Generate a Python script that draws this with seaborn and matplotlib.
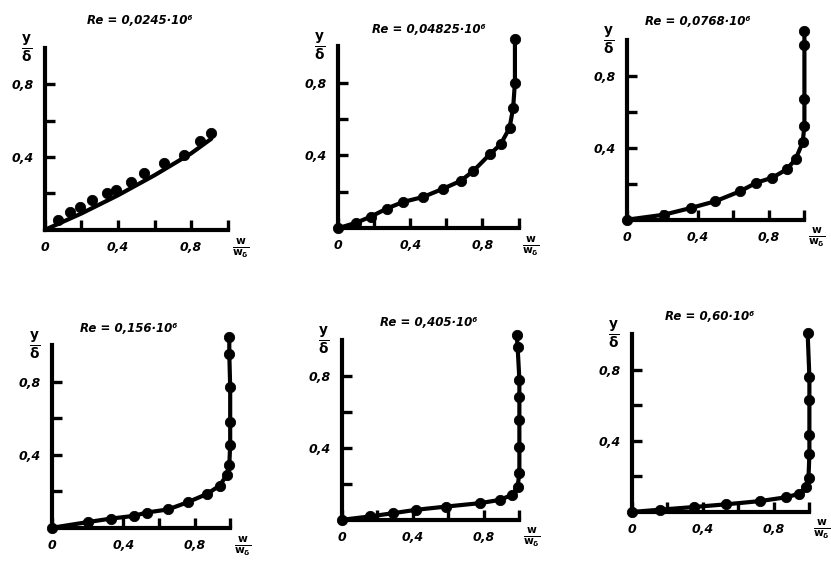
import matplotlib
matplotlib.use("Agg")
import matplotlib.pyplot as plt
import seaborn as sns
import pandas as pd

sns.set_theme(style="white")
plt.rcParams["font.family"] = ["DejaVu Sans"]
plt.rcParams["mathtext.fontset"] = "dejavusans"

# ── data ───────────────────────────────────────────────
titles = ["Re = 0,0245·10⁶", "Re = 0,04825·10⁶", "Re = 0,0768·10⁶",
          "Re = 0,156·10⁶", "Re = 0,405·10⁶", "Re = 0,60·10⁶"]

# panel 1: measured points + separate curve
p1_x = [0.07, 0.14, 0.19, 0.26, 0.34, 0.39, 0.47, 0.54, 0.65, 0.76, 0.85, 0.91]
p1_y = [0.055, 0.10, 0.128, 0.165, 0.20, 0.22, 0.265, 0.31, 0.366, 0.41, 0.49, 0.53]
p1_line_x = [0.0, 0.20, 0.40, 0.60, 0.80, 0.91]
p1_line_y = [0.0, 0.09, 0.19, 0.30, 0.42, 0.50]

p2_x = [0.0, 0.10, 0.18, 0.27, 0.36, 0.47, 0.58, 0.68, 0.75, 0.84, 0.90, 0.95, 0.97, 0.98, 0.98]
p2_y = [0.0, 0.03, 0.063, 0.108, 0.144, 0.171, 0.216, 0.26, 0.315, 0.405, 0.46, 0.55, 0.66, 0.80, 1.04]

p3_x = [0.0, 0.21, 0.36, 0.50, 0.64, 0.73, 0.82, 0.90, 0.95, 0.99, 1.0, 1.0, 1.0, 1.0]
p3_y = [0.0, 0.028, 0.065, 0.103, 0.159, 0.206, 0.234, 0.28, 0.336, 0.43, 0.52, 0.67, 0.97, 1.05]

p4_x = [0.0, 0.20, 0.33, 0.46, 0.53, 0.65, 0.76, 0.87, 0.94, 0.98, 0.995, 1.0, 1.0, 1.0, 0.995, 0.995]
p4_y = [0.0, 0.031, 0.05, 0.065, 0.083, 0.10, 0.139, 0.185, 0.23, 0.287, 0.343, 0.454, 0.58, 0.77, 0.95, 1.045]

p5_x = [0.0, 0.16, 0.29, 0.42, 0.59, 0.78, 0.89, 0.96, 0.99, 1.0, 1.0, 1.0, 1.0, 1.0, 0.99, 0.985]
p5_y = [0.0, 0.019, 0.037, 0.056, 0.074, 0.093, 0.111, 0.139, 0.185, 0.259, 0.407, 0.556, 0.685, 0.78, 0.963, 1.03]

p6_x = [0.0, 0.16, 0.35, 0.53, 0.72, 0.87, 0.94, 0.98, 0.995, 1.0, 1.0, 1.0, 1.0, 0.99]
p6_y = [0.0, 0.013, 0.028, 0.043, 0.061, 0.083, 0.102, 0.139, 0.194, 0.324, 0.435, 0.63, 0.76, 1.01]

panels = [(p1_x, p1_y), (p2_x, p2_y), (p3_x, p3_y),
          (p4_x, p4_y), (p5_x, p5_y), (p6_x, p6_y)]

# axes boxes in figure fractions [left, bottom, width, height]
boxes = [[0.054, 0.591, 0.220, 0.324], [0.407, 0.594, 0.217, 0.324], [0.754, 0.609, 0.214, 0.320],
         [0.063, 0.061, 0.214, 0.325], [0.411, 0.075, 0.214, 0.320], [0.760, 0.089, 0.214, 0.316]]
title_x = [0.52, 0.50, 0.40, 0.43, 0.49, 0.44]
title_y = [1.15, 1.09, 1.10, 1.09, 1.10, 1.10]

fig = plt.figure(figsize=(8.31, 5.62), dpi=100)

for i, ((px, py), box) in enumerate(zip(panels, boxes)):
    ax = fig.add_axes(box)
    df = pd.DataFrame({"x": px, "y": py})
    if i == 0:
        ld = pd.DataFrame({"x": p1_line_x, "y": p1_line_y})
    else:
        ld = df
    sns.lineplot(data=ld, x="x", y="y", sort=False, estimator=None,
                 color="black", lw=3, ax=ax)
    sns.scatterplot(data=df, x="x", y="y", color="black", s=55,
                    edgecolor="black", ax=ax)
    for art in ax.lines + ax.collections:
        art.set_clip_on(False)

    ax.set_xlim(0, 1.0)
    ax.set_ylim(0, 1.0)
    sns.despine(ax=ax)
    for side in ["left", "bottom"]:
        ax.spines[side].set_linewidth(3)
        ax.spines[side].set_color("black")
    ax.set_xticks([0, 0.2, 0.4, 0.6, 0.8, 1.0])
    ax.set_xticklabels(["0", "", "0,4", "", "0,8", ""])
    ax.set_yticks([0.2, 0.4, 0.6, 0.8])
    ax.set_yticklabels(["", "0,4", "", "0,8"])
    ax.tick_params(left=True, bottom=True, direction="in", length=7, width=2.4,
                   color="black", labelcolor="black", labelsize=9, pad=8)
    for lab in ax.get_xticklabels() + ax.get_yticklabels():
        lab.set_fontweight("heavy")
        lab.set_fontstyle("italic")
    ax.set_xlabel("")
    ax.set_ylabel("")

    ax.text(title_x[i], title_y[i], titles[i], transform=ax.transAxes,
            ha="center", va="center", fontsize=8.5, fontweight="heavy",
            fontstyle="italic", color="black")
    ax.text(-0.1, 1.0, r"$\mathbf{\frac{y}{\delta}}$", transform=ax.transAxes,
            ha="center", va="center", fontsize=14, color="black")
    ax.text(1.07, -0.1, r"$\mathbf{\frac{w}{w_\delta}}$", transform=ax.transAxes,
            ha="center", va="center", fontsize=11, color="black")

plt.savefig("out.png", dpi=100)
